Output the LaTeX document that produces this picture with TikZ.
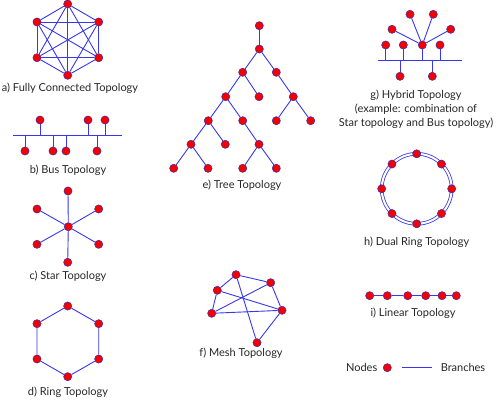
\documentclass[tikz,border=0pt]{standalone}
\usepackage{fontspec}
\setmainfont{Lato}
\usetikzlibrary{calc}
\definecolor{branch}{RGB}{55,55,235}
\definecolor{nodered}{RGB}{245,0,0}

\tikzset{
  nd/.style={circle,fill=nodered,draw=branch!80!black,line width=0.45pt,inner sep=0pt,minimum size=8.2pt},
  br/.style={draw=branch,line width=0.9pt},
  lbl/.style={font=\fontsize{11}{13.8}\selectfont,text=black!85,align=center}
}

\begin{document}
\begin{tikzpicture}[x=1pt,y=-1pt]
\useasboundingbox (0,0) rectangle (500,401);

% a) fully connected
\node[nd](a1) at (67.7,4){};
\node[nd](a2) at (98.7,22){};
\node[nd](a3) at (98.7,57.7){};
\node[nd](a4) at (67.7,75.3){};
\node[nd](a5) at (37,57.7){};
\node[nd](a6) at (37,22){};
\foreach \i in {1,...,5}{
  \pgfmathtruncatemacro\k{\i+1}
  \foreach \j in {\k,...,6} \draw[br](a\i)--(a\j);
}
\node[lbl](la) at (70,88){a) Fully Connected Topology};

% b) bus
\coordinate (b0) at (13,135);
\coordinate (b9) at (122,135);
\draw[br](b0)--(b9);
\foreach \x [count=\n] in {40,88,105}{
  \node[nd](bt\n) at (\x,120){};
  \draw[br](bt\n)--(bt\n |- b0);
}
\foreach \x [count=\n] in {25,53,66,97}{
  \node[nd](bb\n) at (\x,151){};
  \draw[br](bb\n)--(bb\n |- b0);
}
\node[lbl](lb) at (68,170){b) Bus Topology};

% c) star
\node[nd](s0) at (68.3,226.7){};
\node[nd](s1) at (68,191){};
\node[nd](s2) at (98.7,209){};
\node[nd](s3) at (98.7,244.3){};
\node[nd](s4) at (67.7,262.3){};
\node[nd](s5) at (37,244.3){};
\node[nd](s6) at (37,209){};
\foreach \n in {1,...,6} \draw[br](s0)--(s\n);
\node[lbl](lc) at (68,276){c) Star Topology};

% d) ring
\node[nd](r1) at (67.7,306){};
\node[nd](r2) at (98.7,323.7){};
\node[nd](r3) at (98.7,359){};
\node[nd](r4) at (67.7,376.7){};
\node[nd](r5) at (37,359){};
\node[nd](r6) at (37,323.7){};
\draw[br](r1)--(r2)--(r3)--(r4)--(r5)--(r6)--(r1);
\node[lbl](ld) at (68,392.7){d) Ring Topology};

% e) tree
\node[nd](t0) at (259.3,25.7){};
\node[nd](t1) at (259.3,49){};
\node[nd](t2) at (242.7,72.3){};
\node[nd](t3) at (276.3,72.3){};
\node[nd](t4) at (225.7,96.7){};
\node[nd](t5) at (259,96.7){};
\node[nd](t6) at (293.3,96.7){};
\node[nd](t7) at (208.3,120.7){};
\node[nd](t8) at (242.7,120.7){};
\node[nd](t9) at (276.3,120.7){};
\node[nd](t10) at (310.7,120.7){};
\node[nd](t11) at (191,144.3){};
\node[nd](t12) at (225.3,144.3){};
\node[nd](t13) at (259,144.3){};
\node[nd](t14) at (173.7,168.3){};
\node[nd](t15) at (208,168.3){};
\node[nd](t16) at (242.7,168.3){};
\node[nd](t17) at (276.3,168.3){};
\foreach \p/\c in {0/1,1/2,1/3,2/4,2/5,3/6,4/7,4/8,6/9,6/10,7/11,7/12,8/13,11/14,11/15,13/16,13/17}
  \draw[br](t\p)--(t\c);
\node[lbl](le) at (242,185){e) Tree Topology};

% f) mesh
\node[nd](m1) at (236,274.7){};
\node[nd](m2) at (270.7,282.7){};
\node[nd](m3) at (217.3,290.3){};
\node[nd](m4) at (211.7,313.3){};
\node[nd](m5) at (282,310.3){};
\node[nd](m6) at (257,342.7){};
\foreach \i/\j in {1/2,1/3,1/6,3/4,3/5,4/2,4/5,2/5,5/6}
  \draw[br](m\i)--(m\j);
\node[lbl](lf) at (241,353.3){f) Mesh Topology};

% g) hybrid
\coordinate (h0) at (377.7,60.3);
\coordinate (h9) at (461.7,60.3);
\draw[br](h0)--(h9);
\foreach \x [count=\n] in {385.7,403.3,422.3,440}{
  \node[nd](ht\n) at (\x,45){};
  \draw[br](ht\n)--(ht\n |- h0);
}
\foreach \x [count=\n] in {400,432.3}{
  \node[nd](hb\n) at (\x,76.3){};
  \draw[br](hb\n)--(hb\n |- h0);
}
\node[nd](hs1) at (392,29.3){};
\node[nd](hs2) at (410,14.3){};
\node[nd](hs3) at (433.3,14.3){};
\node[nd](hs4) at (450.7,29.3){};
\foreach \n in {1,...,4} \draw[br](ht3)--(hs\n);
\node[lbl](lg) at (416,109.5){g) Hybrid Topology\\(example: combination of\\Star topology and Bus topology)};

% h) dual ring
\coordinate (hc) at (416.7,188.8);
\draw[br,line width=0.8pt,double=white,double distance=2pt](hc) circle (35);
\foreach \a [count=\n] in {90,45,0,-45,-90,-135,180,135}
  \node[nd](d\n) at ($(hc)+(\a:35 and -35)$){};
\node[lbl](lh) at (416.7,242.7){h) Dual Ring Topology};

% i) linear
\foreach \x [count=\n] in {369.7,387.3,407.7,425.7,442,456.3}
  \node[nd](l\n) at (\x,295.7){};
\foreach \i [count=\j from 2] in {1,...,5} \draw[br](l\i)--(l\j);
\node[lbl](li) at (413,313.3){i) Linear Topology};

% legend
\node[lbl](kn) at (361.7,367.7){Nodes};
\node[nd](kd) at (387.3,367.7){};
\coordinate (kb0) at (401.7,367.7);
\coordinate (kb1) at (431.7,367.7);
\draw[br](kb0)--(kb1);
\node[lbl](kbt) at (463,367.7){Branches};
\end{tikzpicture}
\end{document}
